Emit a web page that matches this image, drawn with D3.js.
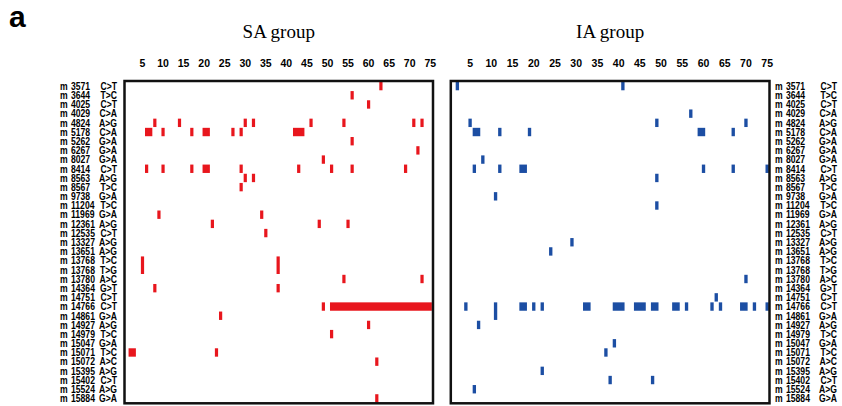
<!DOCTYPE html>
<html>
<head>
<meta charset="utf-8">
<script src="https://d3js.org/d3.v7.min.js"></script>
<style>
body { margin: 0; background: #fff; }
</style>
</head>
<body>
<svg id="vis"></svg>
<script>

//Mutation rows (top to bottom)
var positions = ["3571","3644","4025","4029","4824","5178","5262","6267","8027","8414","8563","8567","9738","11204","11969","12361","12535","13327","13651","13768","13768","13780","14364","14751","14766","14861","14927","14979","15047","15071","15072","15395","15402","15524","15884"];
var changes = ["C>T","T>C","C>T","C>A","A>G","C>A","G>A","G>A","G>A","C>T","A>G","T>C","G>A","T>C","G>A","A>G","C>T","A>G","A>G","T>C","T>G","A>C","G>T","C>T","C>T","G>A","A>G","T>C","G>A","T>C","A>C","A>G","C>T","A>G","G>A"];

//Samples (columns) and the labelled ones
var samples = [1,2,3,4,5,6,7,8,9,10,11,12,13,14,15,16,17,18,19,20,21,22,23,24,25,26,27,28,29,30,31,32,33,34,35,36,37,38,39,40,41,42,43,44,45,46,47,48,49,50,51,52,53,54,55,56,57,58,59,60,61,62,63,64,65,66,67,68,69,70,71,72,73,74,75];
var tickSamples = [5,10,15,20,25,30,35,40,45,50,55,60,65,70,75];

//Samples carrying each mutation, one list per row
var saHits = [
    [63],
    [56],
    [60],
    [],
    [8,14,30,32,46,54,71,73],
    [6,7,10,17,20,21,27,29,42,43,44],
    [56],
    [72],
    [49],
    [6,10,17,20,21,29,43,51,56,69],
    [30,32],
    [29],
    [],
    [],
    [9,34],
    [22,48,55],
    [35],
    [],
    [],
    [5,38],
    [5,38],
    [54,73],
    [8,38],
    [],
    [49,51,52,53,54,55,56,57,58,59,60,61,62,63,64,65,66,67,68,69,70,71,72,73,74,75],
    [24],
    [60],
    [51],
    [],
    [2,3,23],
    [62],
    [],
    [],
    [],
    [62]
];

var iaHits = [
    [2,41],
    [],
    [],
    [57],
    [5,49,70],
    [6,7,12,19,59,60,67],
    [],
    [],
    [8],
    [6,12,17,18,60,67,75],
    [49],
    [],
    [11],
    [49],
    [],
    [],
    [],
    [29],
    [24],
    [],
    [],
    [70],
    [],
    [63],
    [4,11,17,18,20,22,32,33,39,40,41,44,45,46,48,49,53,54,56,62,64,69,70,72,75],
    [11],
    [7],
    [],
    [39],
    [37],
    [],
    [22],
    [38,48],
    [6],
    []
];

var width = 842;
var height = 406;

const svg = d3.select("#vis").attr("width", width).attr("height", height);

var rowTop = 81.5;
var rowBottom = 403;
var labelFont = "'Liberation Sans', Arial, sans-serif";

var y = d3.scaleBand()
    .domain(d3.range(positions.length))
    .range([rowTop, rowBottom]);

//panel letter
svg.append("text")
    .attr("x", 9)
    .attr("y", 27)
    .text("a")
    .style("font-family", labelFont)
    .style("font-weight", "bold")
    .style("font-size", "30px");

drawPanel("SA group", saHits, "#e8161d", [124, 432.3], [124.5, 433]);
drawPanel("IA group", iaHits, "#1c4ea3", [451, 769.3], [450.8, 769.5]);

drawRowLabels(60, 71, 117);
drawRowLabels(775, 786, 837);

//Join neighbouring hits in a row, then stack identical runs of consecutive rows
function buildBlocks(hits) {
    var runs = [];
    hits.forEach(function(cols, r) {
        var sorted = cols.slice().sort(function(a, b) { return a - b; });
        sorted.forEach(function(c) {
            var last = runs[runs.length - 1];
            if (last && last.r0 == r && last.c1 == c - 1) { last.c1 = c; }
            else { runs.push({r0: r, r1: r, c0: c, c1: c}); }
        });
    });
    var blocks = [];
    runs.forEach(function(run) {
        var above = blocks.find(function(b) { return b.r1 == run.r0 - 1 && b.c0 == run.c0 && b.c1 == run.c1; });
        if (above) { above.r1 = run.r1; }
        else { blocks.push(run); }
    });
    return blocks;
}

function drawPanel(title, hits, color, xRange, boxRange) {

    var x = d3.scaleBand().domain(samples).range(xRange);

    svg.append("text")
        .attr("x", (boxRange[0] + boxRange[1]) / 2)
        .attr("y", 38)
        .attr("text-anchor", "middle")
        .text(title)
        .style("font-family", "'Liberation Serif', 'Times New Roman', serif")
        .style("font-size", "19px");

    var axis = svg.append("g")
        .attr("transform", "translate(0,67)")
        .call(d3.axisTop(x).tickValues(tickSamples).tickSize(0).tickPadding(0));
    axis.select(".domain").remove();
    axis.selectAll("text")
        .style("font-family", labelFont)
        .style("font-weight", "bold")
        .style("font-size", "10.5px")
        .style("fill", "#000");

    var insetX = 0.45, insetY = 0.4;
    svg.append("g")
        .selectAll("rect")
        .data(buildBlocks(hits))
        .enter()
        .append("rect")
        .attr("x", function(d) { return x(d.c0) + insetX; })
        .attr("y", function(d) { return y(d.r0) + insetY; })
        .attr("width", function(d) { return x(d.c1) + x.bandwidth() - x(d.c0) - 2 * insetX; })
        .attr("height", function(d) { return y(d.r1) + y.bandwidth() - y(d.r0) - 2 * insetY; })
        .attr("fill", color);

    svg.append("rect")
        .attr("x", boxRange[0])
        .attr("y", 81)
        .attr("width", boxRange[1] - boxRange[0])
        .attr("height", 403.3 - 81)
        .attr("fill", "none")
        .attr("stroke", "#111")
        .attr("stroke-width", 2.5);
}

function drawRowLabels(mX, numX, mutEnd) {
    var g = svg.append("g")
        .style("font-family", labelFont)
        .style("font-weight", "bold")
        .style("font-size", "10.5px");

    positions.forEach(function(p, i) {
        var base = y(i) + y.bandwidth() / 2 + 3.8;
        g.append("text")
            .attr("transform", "translate(" + mX + "," + base + ") scale(0.82,1)")
            .text("m");
        g.append("text")
            .attr("transform", "translate(" + numX + "," + base + ") scale(0.82,1)")
            .text(p);
        g.append("text")
            .attr("transform", "translate(" + mutEnd + "," + base + ") scale(0.82,1)")
            .attr("text-anchor", "end")
            .text(changes[i]);
    });
}

</script>
</body>
</html>
